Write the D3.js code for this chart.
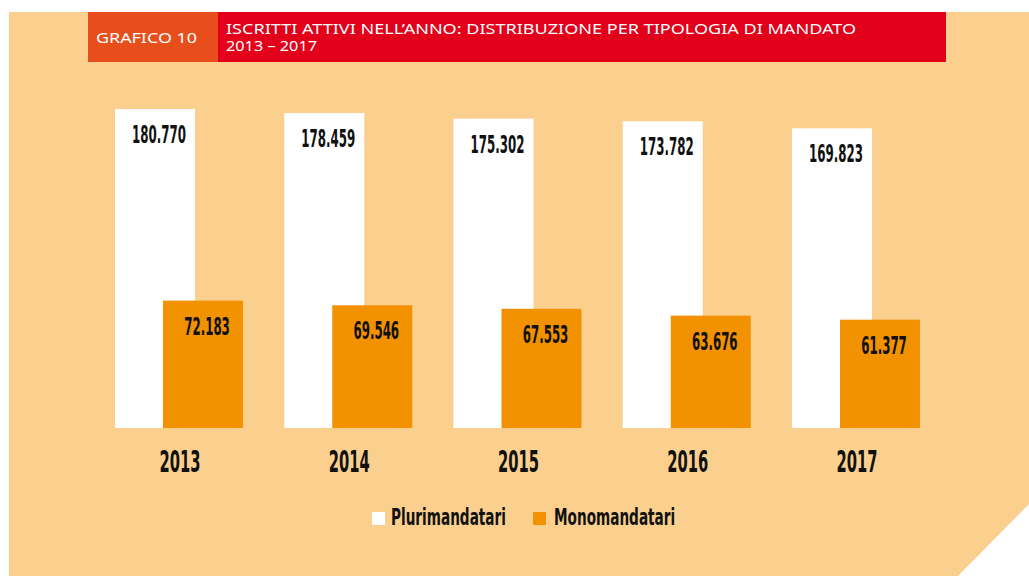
<!DOCTYPE html>
<html><head><meta charset="utf-8">
<script src="https://cdn.jsdelivr.net/npm/d3@7"></script>
<style>
html,body{margin:0;padding:0;background:#fff;}
svg{display:block;}
</style></head>
<body>
<svg id="chart" width="1029" height="576"></svg>
<script>
const years = ["2013","2014","2015","2016","2017"];
const seriesNames = ["Plurimandatari","Monomandatari"];
const pluri = [180770,178459,175302,173782,169823];
const mono  = [72183,69546,67553,63676,61377];
const valueLabels = {
  Plurimandatari: ["180.770","178.459","175.302","173.782","169.823"],
  Monomandatari:  ["72.183","69.546","67.553","63.676","61.377"]
};
const headerTag = "GRAFICO 10";
const titleLines = ["ISCRITTI ATTIVI NELL\u2019ANNO: DISTRIBUZIONE PER TIPOLOGIA DI MANDATO","2013 \u2013 2017"];

const colors = {Plurimandatari:"#ffffff", Monomandatari:"#f39200"};
const bg = "#fbd08f";
const condFont = "'Liberation Sans Narrow','DejaVu Sans Condensed','Liberation Sans',sans-serif";
const titleFont = "'Noto Sans','Open Sans',Lato,sans-serif";

const svg = d3.select("#chart");

function measure(txt, size){
  const t = svg.append("text").text(txt).attr("font-family",condFont).attr("font-weight","bold").attr("font-size",size);
  const w = t.node().getComputedTextLength();
  t.remove();
  return w;
}
const SX_NUM = 54 / measure("180.770", 25);
const SX_YEAR = 41 / measure("2013", 30);
const SX_LEG = 115 / measure("Plurimandatari", 23);

// panel background with cut corner
svg.append("path")
  .attr("d","M9,12 L1029,12 L1029,504 L958,576 L9,576 Z")
  .attr("fill",bg);

// header
svg.append("rect").attr("x",88).attr("y",12).attr("width",130).attr("height",50).attr("fill","#e84e1b");
svg.append("rect").attr("x",218).attr("y",12).attr("width",728).attr("height",50).attr("fill","#e2001a");
function headText(x,yy,txt,len,size){
  svg.append("text").attr("x",x).attr("y",yy).text(txt)
    .attr("font-family",titleFont).attr("font-size",size).attr("font-weight",400).attr("fill","#fff")
    .attr("textLength",len).attr("lengthAdjust","spacingAndGlyphs");
}
headText(96,43,headerTag,101,15);
headText(226,34,titleLines[0],630,14);
headText(226,51,titleLines[1],91,14);

// scales
const x0 = d3.scaleBand().domain(years).range([115,920]).paddingInner(0.2437).paddingOuter(0);
const groupW = x0.bandwidth();
const barW = 80;
const x1 = d3.scalePoint().domain(seriesNames).range([0, groupW - barW]);
const y = d3.scaleLinear().domain([0,180770]).range([428,109]);

const data = years.map((yr,i)=>({year:yr, values:[
  {s:"Plurimandatari", v:pluri[i], label:valueLabels.Plurimandatari[i]},
  {s:"Monomandatari", v:mono[i], label:valueLabels.Monomandatari[i]}
]}));

function condText(sel, x, yy, txt, size, sx, anchor){
  const g = sel.append("g").attr("transform",`translate(${x},${yy}) scale(${sx},1)`);
  g.append("text").text(txt).attr("font-family",condFont).attr("font-weight","bold")
    .attr("font-size",size).attr("fill","#111").attr("text-anchor",anchor||"middle");
  return g;
}

const groups = svg.selectAll("g.grp").data(data).join("g").attr("class","grp")
  .attr("transform",d=>`translate(${x0(d.year)},0)`);

groups.selectAll("rect").data(d=>d.values).join("rect")
  .attr("x",d=>x1(d.s)).attr("width",barW)
  .attr("y",d=>y(d.v)).attr("height",d=>y(0)-y(d.v))
  .attr("fill",d=>colors[d.s]);

groups.each(function(d){
  const g = d3.select(this);
  d.values.forEach(v=>{
    condText(g, x1(v.s)+barW/2+4, y(v.v)+34, v.label, 25, SX_NUM);
  });
  condText(g, groupW/2+1, 472, d.year, 30, SX_YEAR);
});

// legend
const legendPos = [{x:372, tx:391},{x:533, tx:554}];
seriesNames.forEach((s,i)=>{
  svg.append("rect").attr("x",legendPos[i].x).attr("y",512).attr("width",13).attr("height",13).attr("fill",colors[s]);
  condText(svg, legendPos[i].tx, 525, s, 23, SX_LEG, "start");
});
</script>
</body></html>
